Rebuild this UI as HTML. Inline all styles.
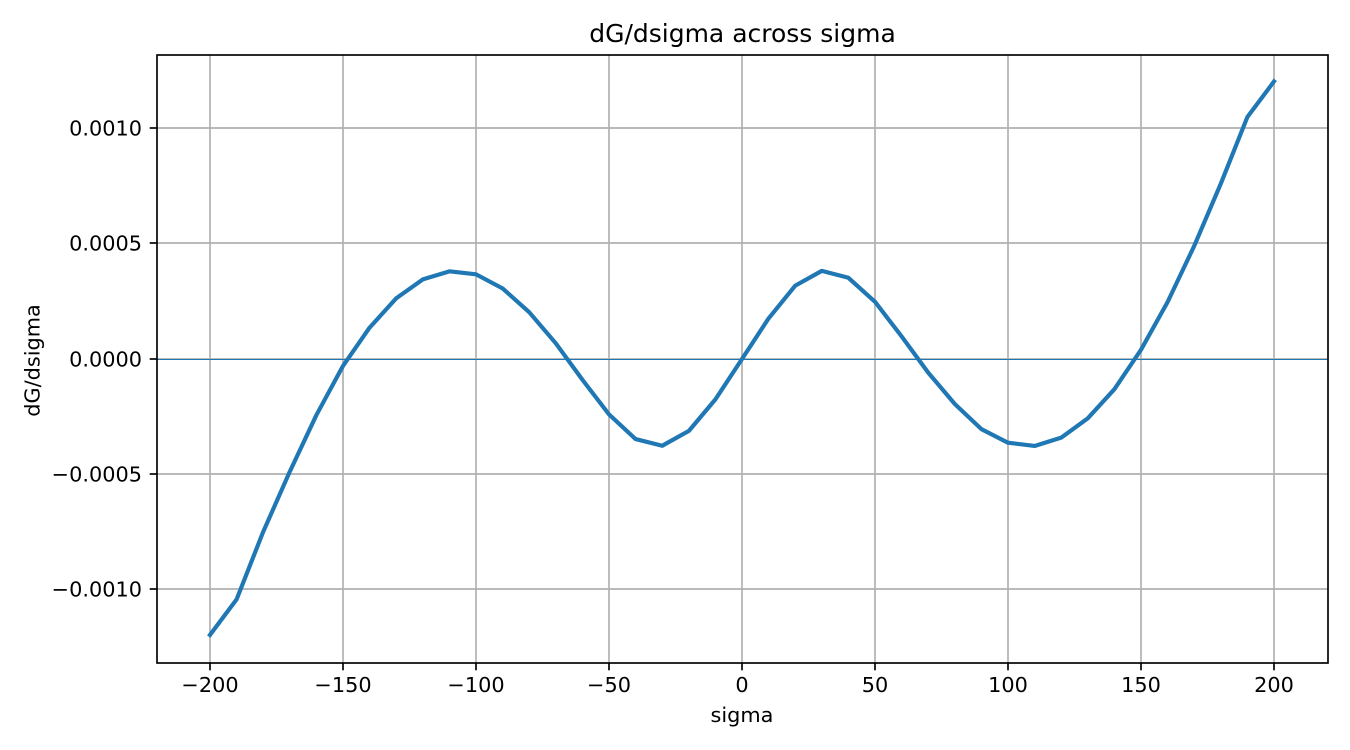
<!DOCTYPE html>
<html>
<head>
<meta charset="utf-8">
<style>
html,body{margin:0;padding:0;background:#fff;width:1350px;height:750px;overflow:hidden}
svg{display:block}
text{font-family:"DejaVu Sans","Liberation Sans",sans-serif;fill:#000}
</style>
</head>
<body>
<svg id="chart" width="1350" height="750" viewBox="0 0 1350 750" xmlns="http://www.w3.org/2000/svg">
<rect x="0" y="0" width="1350" height="750" fill="#fff"/>
<g id="grid"></g>
<line id="zero" stroke="#1f77b4" stroke-width="1.04"></line>
<polyline id="curve" fill="none" stroke="#1f77b4" stroke-width="4.17" stroke-linejoin="round" stroke-linecap="square"></polyline>
<rect x="157" y="55" width="1171" height="608" fill="none" stroke="#000" stroke-width="1.67"/>
<g id="ticks"></g>
<text x="742.5" y="42" text-anchor="middle" font-size="25">dG/dsigma across sigma</text>
<text x="742" y="722" text-anchor="middle" font-size="20.83">sigma</text>
<text transform="translate(39.5 360.5) rotate(-90)" text-anchor="middle" font-size="20.83">dG/dsigma</text>
</svg>
<script>
const sigma = [-200,-190,-180,-170,-160,-150,-140,-130,-120,-110,-100,-90,-80,-70,-60,-50,-40,-30,-20,-10,0,10,20,30,40,50,60,70,80,90,100,110,120,130,140,150,160,170,180,190,200];
const dGdSigma = [-0.001196,-0.001042,-0.000749,-0.000488,-0.000243,-0.00003,0.000136,0.000263,0.000345,0.00038,0.000367,0.000306,0.000203,0.000068,-0.00009,-0.00024,-0.000347,-0.000376,-0.000312,-0.000175,0,0.000176,0.000318,0.000382,0.000352,0.000248,0.000098,-0.000059,-0.000195,-0.000304,-0.000363,-0.000377,-0.000341,-0.000257,-0.000131,0.00004,0.000247,0.00049,0.00076,0.001049,0.001203];
const xTicks = [-200,-150,-100,-50,0,50,100,150,200];
const yTicks = [-0.001,-0.0005,0,0.0005,0.001];
const yTickLabels = ["\u22120.0010","\u22120.0005","0.0000","0.0005","0.0010"];

const SVGNS = 'http://www.w3.org/2000/svg';
const left = 157, right = 1328, top0 = 55, bottom = 663;
function xScale(v){ return 742 + v * 2.66; }
function yScale(v){ return 359 - v * 230.7 * 1000; }
function fmtX(v){ return v < 0 ? '\u2212' + Math.abs(v) : String(v); }

const grid = document.getElementById('grid');
const ticks = document.getElementById('ticks');

function mkLine(x1,y1,x2,y2,stroke,w){
  const l = document.createElementNS(SVGNS,'line');
  l.setAttribute('x1',x1);
  l.setAttribute('y1',y1);
  l.setAttribute('x2',x2);
  l.setAttribute('y2',y2);
  l.setAttribute('stroke',stroke);
  l.setAttribute('stroke-width',w);
  return l;
}

xTicks.forEach(function(v){
  const x = Math.round(xScale(v));
  const g = mkLine(x,top0,x,bottom,'#b0b0b0',1.67);
  
  
  grid.appendChild(g);
  const t = mkLine(x,bottom,x,bottom+7.3,'#000',1.67);
  
  
  ticks.appendChild(t);
  const s = document.createElementNS(SVGNS,'text');
  s.setAttribute('x',x);
  s.setAttribute('y',692);
  s.setAttribute('text-anchor','middle');
  s.setAttribute('font-size','20.83');
  s.textContent = fmtX(v);
  
  
  ticks.appendChild(s);
});

yTicks.forEach(function(v,i){
  const y = Math.floor(yScale(v));
  const g = mkLine(left,y,right,y,'#b0b0b0',1.67);
  
  
  grid.appendChild(g);
  const t = mkLine(left-7.3,y,left,y,'#000',1.67);
  
  
  ticks.appendChild(t);
  const s = document.createElementNS(SVGNS,'text');
  s.setAttribute('x',142);
  s.setAttribute('y',y+7.6);
  s.setAttribute('text-anchor','end');
  s.setAttribute('font-size','20.83');
  s.textContent = yTickLabels[i];
  
  
  ticks.appendChild(s);
});

const zero = document.getElementById('zero');
zero.setAttribute('x1',left);
zero.setAttribute('x2',right);
zero.setAttribute('y1',Math.floor(yScale(0))+0.5);
zero.setAttribute('y2',Math.floor(yScale(0))+0.5);

document.getElementById('curve').setAttribute('points',
  sigma.map(function(v,i){ return xScale(v).toFixed(2)+','+yScale(dGdSigma[i]).toFixed(2); }).join(' '));
</script>
</body>
</html>
